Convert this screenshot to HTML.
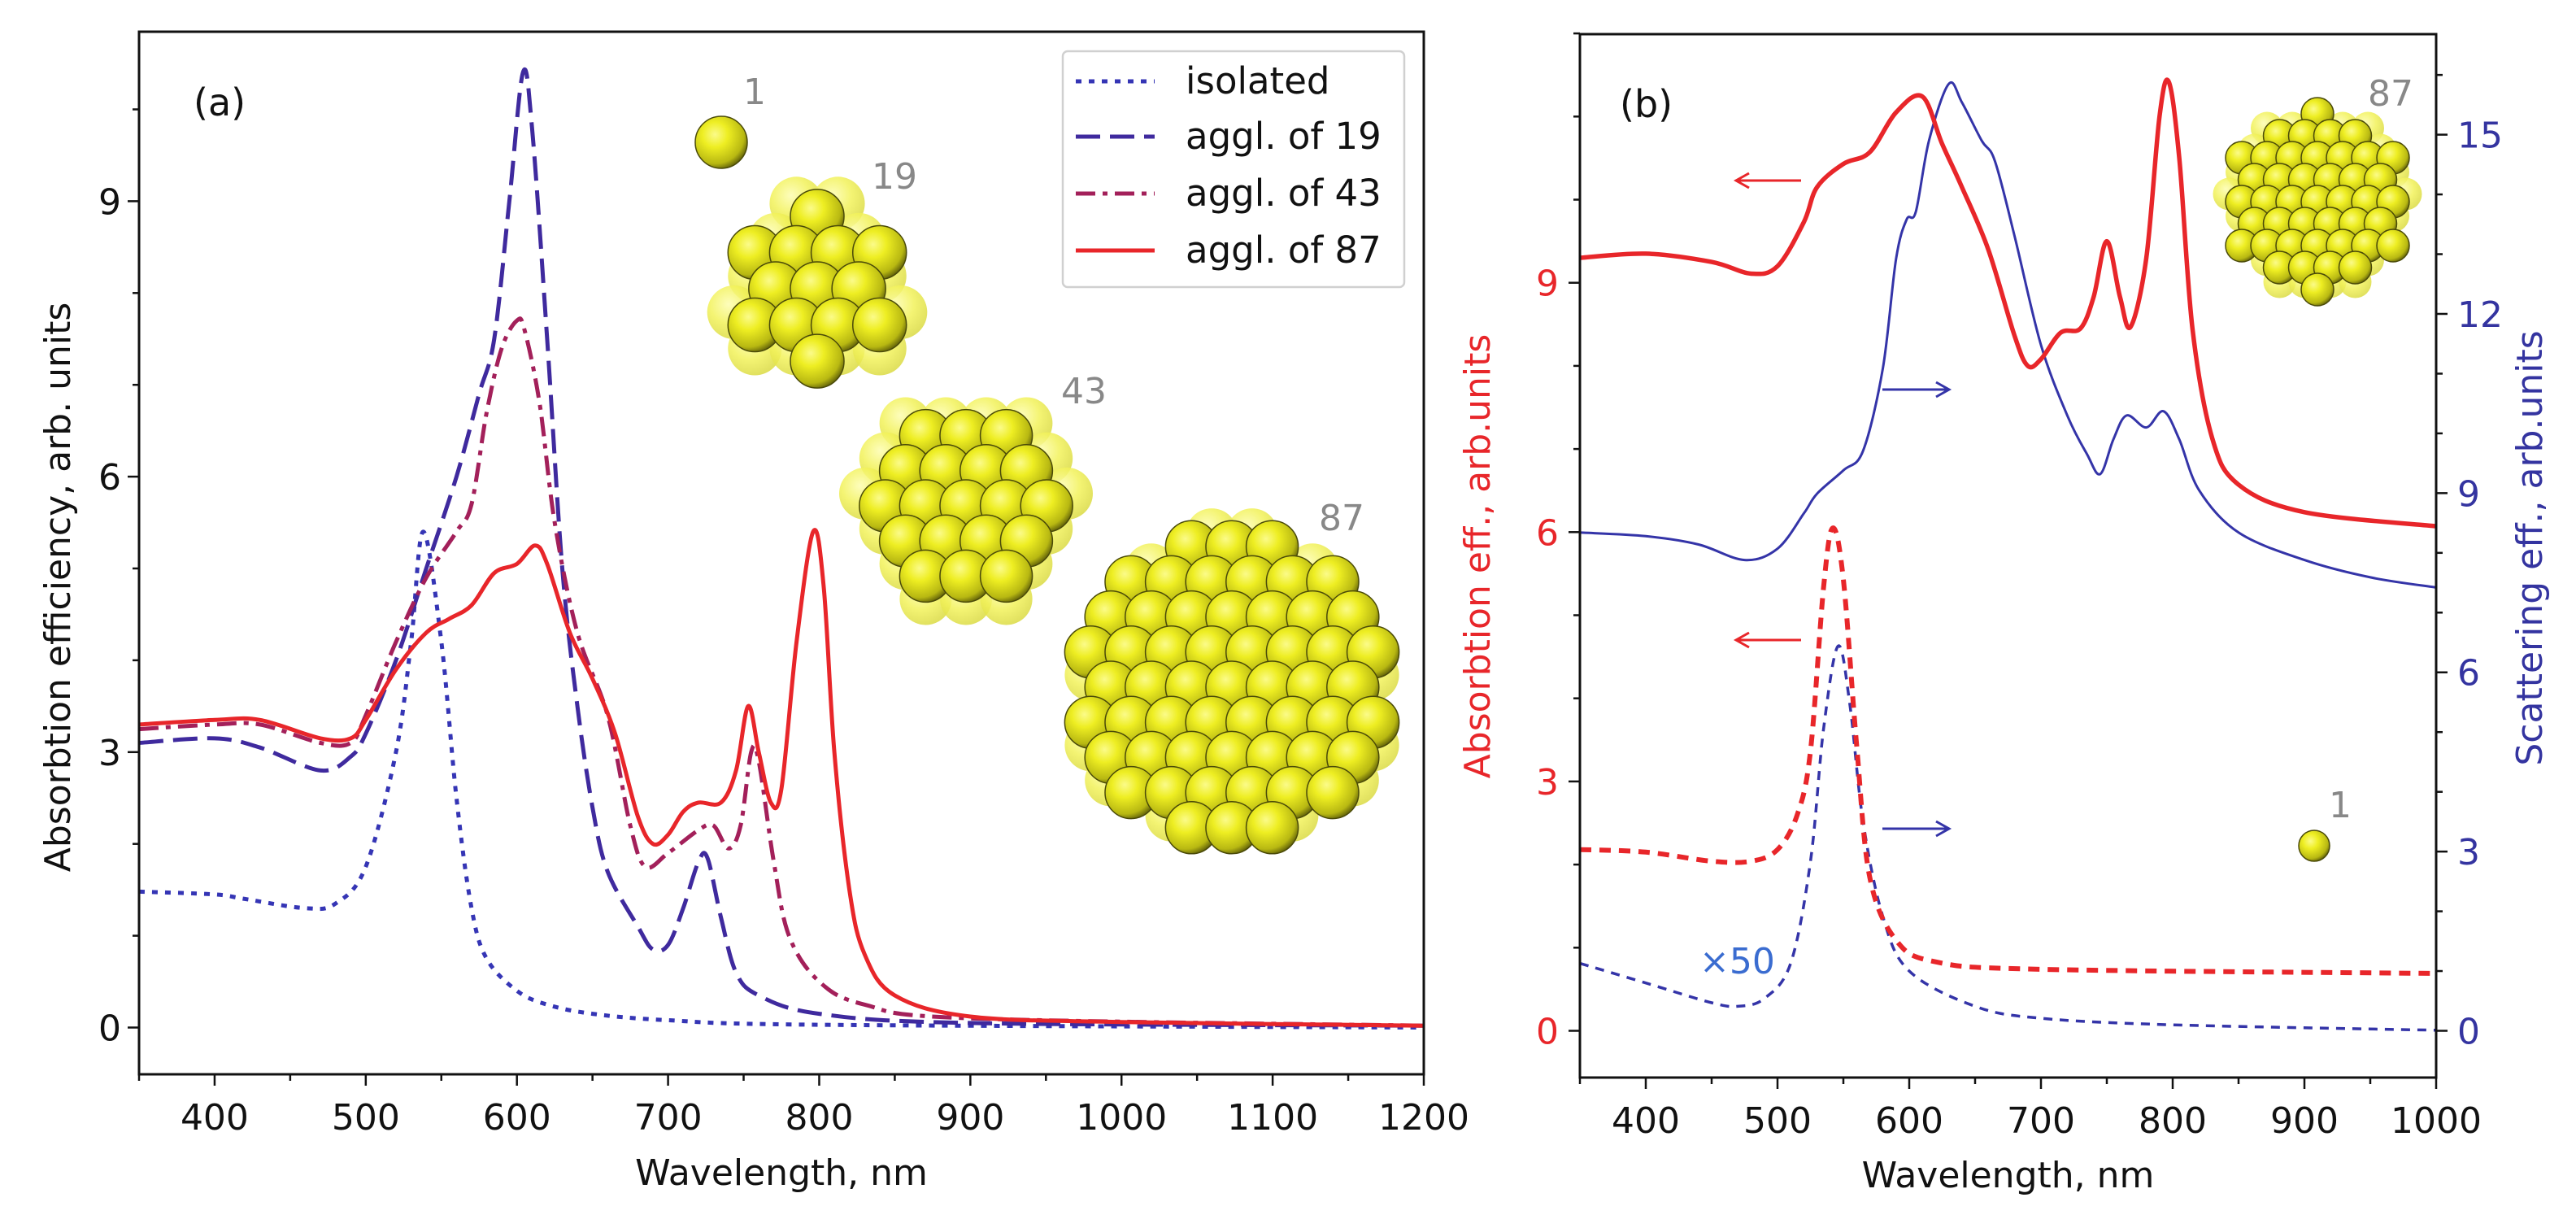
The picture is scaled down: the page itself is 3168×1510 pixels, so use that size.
<!DOCTYPE html>
<html><head><meta charset="utf-8"><style>
html,body{margin:0;padding:0;background:#fff;}
svg{display:block;font-family:"DejaVu Sans","Liberation Sans",sans-serif;}
</style></head><body>
<svg id="fig" width="3168" height="1510" viewBox="0 0 3168 1510" xmlns="http://www.w3.org/2000/svg">
<defs>
<radialGradient id="ballg" cx="0.38" cy="0.35" r="0.7">
<stop offset="0" stop-color="#fbfb8a"/><stop offset="0.35" stop-color="#eeee22"/><stop offset="0.8" stop-color="#b8b812"/><stop offset="1" stop-color="#5a5a08"/>
</radialGradient>
<radialGradient id="ballb" cx="0.4" cy="0.35" r="0.7">
<stop offset="0" stop-color="#fdfdb0"/><stop offset="0.5" stop-color="#f2f25a"/><stop offset="1" stop-color="#d8d840"/>
</radialGradient>
</defs>
<g id="layer"></g>
</svg>
<script>
// ---------- Panel (a) data ----------
const aIsoX = [350,400,420,460,480,500,520,530,538,550,560,570,580,600,620,650,700,800,1200];
const aIsoY = [1.48,1.45,1.4,1.3,1.35,1.75,3.0,4.2,5.4,4.2,2.5,1.3,0.75,0.4,0.25,0.15,0.08,0.03,0.0];
const a19X = [350,400,430,470,490,500,520,540,560,575,585,595,604,610,620,630,640,650,660,680,690,700,710,720,726,735,745,760,800,900,1200];
const a19Y = [3.1,3.15,3.05,2.8,2.95,3.2,4.0,5.0,6.0,6.9,7.5,9.0,10.4,9.8,7.5,5.0,3.5,2.4,1.7,1.1,0.85,0.9,1.3,1.8,1.85,1.2,0.6,0.35,0.15,0.05,0.02];
const a43X = [350,400,430,470,490,500,520,540,560,570,580,590,600,605,615,625,640,660,675,685,700,720,730,740,748,755,760,770,780,800,830,900,1200];
const a43Y = [3.25,3.3,3.3,3.1,3.1,3.4,4.2,4.9,5.4,5.7,6.7,7.4,7.7,7.6,6.8,5.5,4.3,3.4,2.2,1.75,1.9,2.15,2.2,1.95,2.2,3.0,2.9,1.8,1.0,0.5,0.25,0.1,0.02];
const a87X = [350,400,430,470,490,500,520,540,555,570,585,600,612,620,635,650,665,680,690,700,710,720,735,745,753,760,768,775,785,796,803,810,820,830,850,900,1000,1200];
const a87Y = [3.3,3.35,3.35,3.15,3.15,3.35,3.9,4.3,4.45,4.6,4.95,5.05,5.25,5.05,4.3,3.8,3.2,2.3,2.0,2.1,2.35,2.45,2.45,2.8,3.5,3.0,2.45,2.6,4.2,5.4,4.8,3.0,1.5,0.8,0.35,0.12,0.06,0.02];
const aXTicks = [400,500,600,700,800,900,1000,1100,1200];
const aYTicks = [0,3,6,9];

// ---------- Panel (b) data ----------
const bAbs87X = [350,400,450,480,500,520,530,550,570,590,610,625,640,660,680,690,700,715,730,740,750,760,768,780,790,797,805,815,830,850,900,1000];
const bAbs87Y = [9.3,9.35,9.25,9.11,9.2,9.73,10.15,10.43,10.57,11.05,11.24,10.67,10.15,9.4,8.36,8.0,8.08,8.4,8.45,8.83,9.5,8.83,8.47,9.3,11.0,11.42,10.5,8.45,7.13,6.57,6.24,6.07];
const bSca87X = [350,400,440,475,500,520,530,550,565,580,590,598,605,615,630,640,655,665,680,700,720,735,745,755,765,780,793,805,820,850,900,950,1000];
const bSca87Y = [8.34,8.28,8.14,7.88,8.07,8.66,8.99,9.38,9.71,11.09,12.92,13.58,13.71,14.9,15.85,15.54,14.9,14.56,13.3,11.48,10.3,9.65,9.32,9.9,10.3,10.1,10.37,9.9,9.05,8.34,7.88,7.59,7.42];
const bAbs1X = [350,400,450,480,500,515,525,535,542,550,560,570,590,620,700,1000];
const bAbs1Y = [2.18,2.15,2.04,2.04,2.18,2.6,3.36,5.34,6.05,5.43,3.45,1.85,1.09,0.83,0.74,0.69];
const bSca1X = [350,400,450,470,490,510,525,535,546,555,565,580,600,650,700,800,1000];
const bSca1Y = [1.13,0.8,0.47,0.41,0.54,1.13,2.83,5.06,6.44,5.45,3.49,1.91,1.0,0.41,0.21,0.1,0.01];
const bXTicks = [400,500,600,700,800,900,1000];
const bLTicks = [0,3,6,9];
const bRTicks = [0,3,6,9,12,15];

const NS = "http://www.w3.org/2000/svg";
const L = document.getElementById('layer');
function mk(tag, attrs, parent){ const e=document.createElementNS(NS,tag); for(const k in attrs) e.setAttribute(k,attrs[k]); (parent||L).appendChild(e); return e; }
function txt(s, attrs, parent){ const e=mk('text',attrs,parent); e.textContent=s; return e; }

const AX = {l:171, r:1751, t:39, b:1321, x0:350, x1:1200};
const ax = v => AX.l + (v-AX.x0)/(AX.x1-AX.x0)*(AX.r-AX.l);
const ay = v => 1263.5 - v*112.9;
const BX = {l:1943, r:2996, t:42, b:1325, x0:350, x1:1000};
const bx = v => BX.l + (v-BX.x0)/(BX.x1-BX.x0)*(BX.r-BX.l);
const byL = v => 1267.5 - v*102.2;
const byR = v => 1267.5 - v*73.46;

function smoothPath(xs, ys, fx, fy){
  const p = xs.map((x,i)=>[fx(x), fy(ys[i])]);
  let d = `M${p[0][0].toFixed(1)},${p[0][1].toFixed(1)}`;
  for(let i=0;i<p.length-1;i++){
    const p0=p[Math.max(0,i-1)], p1=p[i], p2=p[i+1], p3=p[Math.min(p.length-1,i+2)];
    const c1=[p1[0]+(p2[0]-p0[0])/6, p1[1]+(p2[1]-p0[1])/6];
    const c2=[p2[0]-(p3[0]-p1[0])/6, p2[1]-(p3[1]-p1[1])/6];
    d += ` C${c1[0].toFixed(1)},${c1[1].toFixed(1)} ${c2[0].toFixed(1)},${c2[1].toFixed(1)} ${p2[0].toFixed(1)},${p2[1].toFixed(1)}`;
  }
  return d;
}

function cluster(cx, cy, R, r, name){
  const g = mk('g',{});
  
  
  const back=[], front=[];
  const dx = r*1.55, dy = r*1.35;
  for(let j=-6;j<=6;j++) for(let i=-6;i<=6;i++){
    const x = cx + i*dx + (j%2?dx/2:0), y = cy + j*dy;
    const d = Math.hypot(x-cx,y-cy);
    if(d <= R - r*0.6) front.push([x,y]);
    const xb = x + dx*0.5, yb = y - dy*0.35;
    if(Math.hypot(xb-cx,yb-cy) <= R - r*0.3) back.push([xb,yb]);
  }
  back.forEach(p=>mk('circle',{cx:p[0],cy:p[1],r:r,fill:'url(#ballb)',opacity:0.85},g));
  front.forEach(p=>mk('circle',{cx:p[0],cy:p[1],r:r,fill:'url(#ballg)',stroke:'#4a4a08','stroke-width':1.5},g));
  return g;
}

// ---------- Panel (a) ----------
const pa = mk('g',{});



const b1 = mk('circle',{cx:887,cy:175,r:32,fill:'url(#ballg)',stroke:'#4a4a08','stroke-width':1.5},pa);


pa.appendChild(cluster(1005,355,122,33,'cluster-19-image'));
pa.appendChild(cluster(1188,622,150,32,'cluster-43-image'));
pa.appendChild(cluster(1515,845,205,32,'cluster-87-image'));
[['1',928,128],['19',1100,232],['43',1333,496],['87',1650,652]].forEach(s=>{
  const t=txt(s[0],{x:s[1],y:s[2],'font-size':44,fill:'#888','text-anchor':'middle'},pa);
  
  
});

const clipA = mk('clipPath',{id:'clipA'},pa);
mk('rect',{x:AX.l,y:AX.t,width:AX.r-AX.l,height:AX.b-AX.t},clipA);

const seriesA = [
  [aIsoX,aIsoY,'#3535b5','7,9','series-isolated'],
  [a19X,a19Y,'#3f2a9e','30,12','series-aggl-19'],
  [a43X,a43Y,'#a3205a','24,9,6,9','series-aggl-43'],
  [a87X,a87Y,'#e8262a','','series-aggl-87']
];
seriesA.forEach(s=>{
  const p = mk('path',{d:smoothPath(s[0],s[1],ax,ay),fill:'none',stroke:s[2],'stroke-width':5,'stroke-dasharray':s[3],'clip-path':'url(#clipA)','stroke-linejoin':'round'},pa);
  
  
});

const frameA = mk('rect',{x:AX.l,y:AX.t,width:AX.r-AX.l,height:AX.b-AX.t,fill:'none',stroke:'#111','stroke-width':3},pa);



for(let v=350; v<=1200; v+=50){
  const major = aXTicks.includes(v);
  mk('line',{x1:ax(v),x2:ax(v),y1:AX.b,y2:AX.b+(major?14:8),stroke:'#111','stroke-width':2.5},pa);
}
aXTicks.forEach(v=>{
  const t=txt(String(v),{x:ax(v),y:1389,'font-size':44,'text-anchor':'middle',fill:'#111'},pa);
  
  
});
for(let v=0; v<=10; v++){
  const major = aYTicks.includes(v);
  mk('line',{x1:AX.l,x2:AX.l-(major?14:8),y1:ay(v),y2:ay(v),stroke:'#111','stroke-width':2.5},pa);
}
aYTicks.forEach(v=>{
  const t=txt(String(v),{x:AX.l-22,y:ay(v)+16,'font-size':44,'text-anchor':'end',fill:'#111'},pa);
  
  
});
const xta = txt('Wavelength, nm',{x:(AX.l+AX.r)/2,y:1457,'font-size':44,'text-anchor':'middle',fill:'#111'},pa);


const yta = txt('Absorbtion efficiency, arb. units',{x:0,y:0,'font-size':44,'text-anchor':'middle',fill:'#111',transform:'translate(86,722) rotate(-90)'},pa);


const tagA = txt('(a)',{x:238,y:142,'font-size':46,fill:'#111'},pa);



const lg = mk('g',{},pa);


mk('rect',{x:1307,y:63,width:420,height:290,rx:6,fill:'#fff',stroke:'#d0d0d0','stroke-width':2.5},lg);
const legY=[100,168,238,308];
const legT=['isolated','aggl. of 19','aggl. of 43','aggl. of 87'];
seriesA.forEach((s,i)=>{
  const e = mk('g',{},lg);
  
  
  mk('line',{x1:1323,x2:1420,y1:legY[i],y2:legY[i],stroke:s[2],'stroke-width':5,'stroke-dasharray':s[3]},e);
  txt(legT[i],{x:1458,y:legY[i]+15,'font-size':45,fill:'#111'},e);
});

// ---------- Panel (b) ----------
const pb = mk('g',{});


pb.appendChild(cluster(2850,248,120,20,'cluster-87-image-b'));
const b1b = mk('circle',{cx:2846,cy:1040,r:19,fill:'url(#ballg)',stroke:'#4a4a08','stroke-width':1.5},pb);


[['87',2940,130],['1',2878,1005]].forEach(s=>{
  const t=txt(s[0],{x:s[1],y:s[2],'font-size':44,fill:'#888','text-anchor':'middle'},pb);
  
  
});

const clipB = mk('clipPath',{id:'clipB'},pb);
mk('rect',{x:BX.l,y:BX.t,width:BX.r-BX.l,height:BX.b-BX.t},clipB);

const seriesB = [
  [bSca87X,bSca87Y,byR,'#3434a8',3,'','series-scattering-87'],
  [bAbs87X,bAbs87Y,byL,'#e8262a',5.5,'','series-absorption-87'],
  [bSca1X,bSca1Y,byR,'#3434a8',3.5,'11,9','series-scattering-isolated'],
  [bAbs1X,bAbs1Y,byL,'#e8262a',6,'14,10','series-absorption-isolated']
];
seriesB.forEach(s=>{
  const p = mk('path',{d:smoothPath(s[0],s[1],bx,s[2]),fill:'none',stroke:s[3],'stroke-width':s[4],'stroke-dasharray':s[5],'clip-path':'url(#clipB)','stroke-linejoin':'round'},pb);
  
  
});

function arrow(x1,x2,y,col,name){
  const g = mk('g',{},pb);
  
  
  mk('line',{x1:x1,x2:x2,y1:y,y2:y,stroke:col,'stroke-width':3},g);
  const dir = x2>x1?1:-1;
  mk('polyline',{points:`${x2-dir*16},${y-9} ${x2},${y} ${x2-dir*16},${y+9}`,fill:'none',stroke:col,'stroke-width':3},g);
}
arrow(2215,2135,222,'#e8262a','arrow-left-absorption-87');
arrow(2315,2397,479,'#3434a8','arrow-right-scattering-87');
arrow(2215,2135,787,'#e8262a','arrow-left-absorption-isolated');
arrow(2315,2397,1019,'#3434a8','arrow-right-scattering-isolated');
const x50 = txt('×50',{x:2090,y:1197,'font-size':44,fill:'#3a6cd0'},pb);



const frameB = mk('rect',{x:BX.l,y:BX.t,width:BX.r-BX.l,height:BX.b-BX.t,fill:'none',stroke:'#111','stroke-width':3},pb);


for(let v=350; v<=1000; v+=50){
  const major = bXTicks.includes(v);
  mk('line',{x1:bx(v),x2:bx(v),y1:BX.b,y2:BX.b+(major?14:8),stroke:'#111','stroke-width':2.5},pb);
}
bXTicks.forEach(v=>{
  const t=txt(String(v),{x:bx(v),y:1393,'font-size':44,'text-anchor':'middle',fill:'#111'},pb);
  
  
});
for(let v=0; v<=12; v++){
  const major = bLTicks.includes(v);
  mk('line',{x1:BX.l,x2:BX.l-(major?14:8),y1:byL(v),y2:byL(v),stroke:'#111','stroke-width':2.5},pb);
}
bLTicks.forEach(v=>{
  const t=txt(String(v),{x:BX.l-26,y:byL(v)+16,'font-size':44,'text-anchor':'end',fill:'#e8262a'},pb);
  
  
});
for(let v=0; v<=16; v++){
  const major = bRTicks.includes(v);
  mk('line',{x1:BX.r,x2:BX.r+(major?14:8),y1:byR(v),y2:byR(v),stroke:'#111','stroke-width':2.5},pb);
}
bRTicks.forEach(v=>{
  const t=txt(String(v),{x:BX.r+26,y:byR(v)+16,'font-size':44,'text-anchor':'start',fill:'#3434a0'},pb);
  
  
});
const xtb = txt('Wavelength, nm',{x:(BX.l+BX.r)/2,y:1460,'font-size':44,'text-anchor':'middle',fill:'#111'},pb);


const ytl = txt('Absorbtion eff., arb.units',{x:0,y:0,'font-size':44,'text-anchor':'middle',fill:'#e8262a',transform:'translate(1832,684) rotate(-90)'},pb);


const ytr = txt('Scattering eff., arb.units',{x:0,y:0,'font-size':44,'text-anchor':'middle',fill:'#3434a0',transform:'translate(3126,674) rotate(-90)'},pb);


const tagB = txt('(b)',{x:1992,y:144,'font-size':46,fill:'#111'},pb);


</script>
</body></html>
